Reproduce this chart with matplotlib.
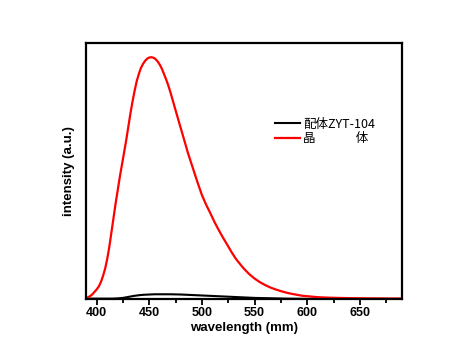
import matplotlib
matplotlib.use('Agg')
import matplotlib.pyplot as plt
from matplotlib.ticker import MultipleLocator

# emission spectra (peak normalised to 1)
wl_crystal = [390, 392, 394, 396, 398, 400, 402, 404, 406, 408, 410, 412, 414, 416, 418,
              420, 422, 424, 426, 428, 430, 432, 434, 436, 438, 440, 442, 444, 446, 448,
              450, 452, 454, 456, 458, 460, 462, 464, 466, 468, 470, 472, 475, 478, 481,
              484, 487, 490, 493, 496, 500, 504, 508, 512, 516, 520, 524, 528, 532, 536,
              540, 545, 550, 555, 560, 565, 570, 575, 580, 585, 590, 595, 600, 610, 620,
              630, 640, 660, 690]
i_crystal = [0.005, 0.008, 0.013, 0.02, 0.03, 0.04, 0.052, 0.07, 0.095, 0.125, 0.165, 0.215,
             0.275, 0.335, 0.395, 0.45, 0.505, 0.555, 0.605, 0.655, 0.71, 0.765, 0.815, 0.86,
             0.9, 0.93, 0.955, 0.972, 0.985, 0.994, 0.999, 1.0, 0.998, 0.992, 0.982, 0.969,
             0.952, 0.93, 0.908, 0.884, 0.856, 0.826, 0.78, 0.735, 0.69, 0.645, 0.6, 0.56,
             0.52, 0.48, 0.43, 0.39, 0.355, 0.318, 0.285, 0.254, 0.225, 0.195, 0.168, 0.146,
             0.125, 0.103, 0.085, 0.07, 0.058, 0.048, 0.04, 0.033, 0.027, 0.022, 0.018, 0.014,
             0.012, 0.008, 0.006, 0.005, 0.004, 0.003, 0.002]

wl_ligand = [390, 415, 420, 425, 430, 435, 440, 445, 450, 455, 460, 465, 470, 480, 490,
             500, 510, 520, 530, 540, 550, 560, 570, 580, 600, 690]
i_ligand = [0.002, 0.002, 0.003, 0.005, 0.009, 0.013, 0.016, 0.018, 0.019, 0.02, 0.02, 0.02,
            0.02, 0.019, 0.017, 0.015, 0.013, 0.011, 0.009, 0.007, 0.005, 0.004, 0.003,
            0.002, 0.001, 0.001]

labels = ['配体ZYT-104', '晶　　　 体']

plt.rcParams['font.family'] = ['Liberation Sans', 'DejaVu Sans']

fig = plt.figure(figsize=(4.68, 3.63), dpi=100)
ax = fig.add_axes([0.184, 0.176, 0.675, 0.705])

ax.plot(wl_ligand, i_ligand, color='black', lw=1.5, label=labels[0])
ax.plot(wl_crystal, i_crystal, color='#ff0000', lw=1.6, label=labels[1])

ax.set_xlim(390, 690)
ax.set_ylim(0, 1.058)
ax.xaxis.set_major_locator(MultipleLocator(50))
ax.xaxis.set_minor_locator(MultipleLocator(25))
ax.set_yticks([])
ax.tick_params(axis='x', which='major', length=4, width=1.3, labelsize=9, pad=2)
ax.tick_params(axis='x', which='minor', length=3, width=1.3)
for lab in ax.get_xticklabels():
    lab.set_fontweight('bold')
for s in ax.spines.values():
    s.set_linewidth(1.6)

ax.set_xlabel('wavelength (mm)', fontsize=9.5, fontweight='bold', labelpad=2)
ax.set_ylabel('intensity (a.u.)', fontsize=9.5, fontweight='bold', labelpad=8)

leg = ax.legend(loc='upper left', bbox_to_anchor=(0.561, 0.753), frameon=False,
                prop={'family': ['Noto Sans CJK SC'], 'size': 9},
                handlelength=2.0, handletextpad=0.3, labelspacing=0.1)

fig.savefig('out.png', dpi=100)
